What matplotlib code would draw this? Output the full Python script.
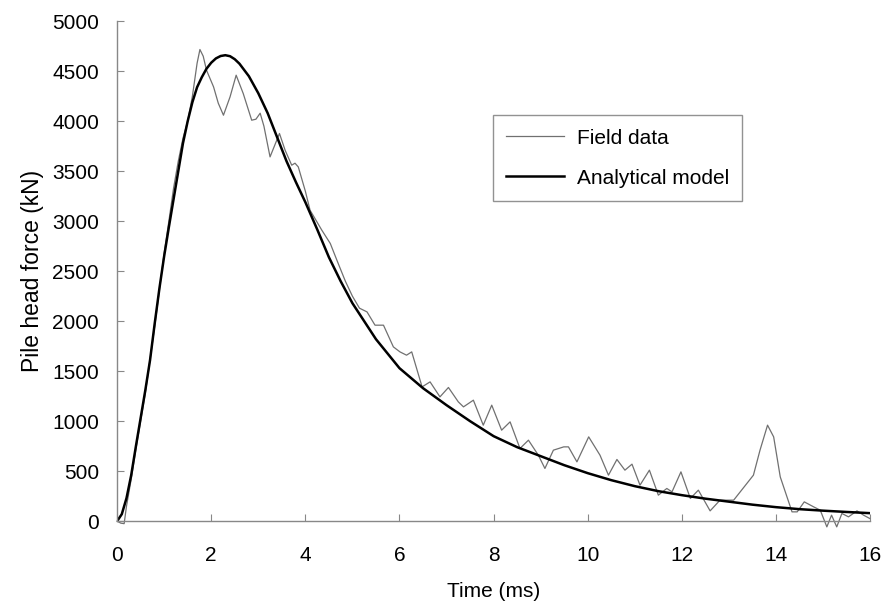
import matplotlib
matplotlib.use("Agg")
from matplotlib import pyplot as plt

plt.rcParams['font.family'] = ['Liberation Sans', 'DejaVu Sans']

# analytical model
model_t = [0, 0.1, 0.2, 0.3, 0.4, 0.5, 0.6, 0.7, 0.8, 0.9, 1.0, 1.1, 1.2, 1.3,
           1.4, 1.5, 1.6, 1.7, 1.8, 1.9, 2.0, 2.1, 2.2, 2.3, 2.4, 2.5, 2.6,
           2.8, 3.0, 3.2, 3.4, 3.6, 3.8, 4.0, 4.25, 4.5, 4.75, 5.0, 5.5, 6.0,
           6.5, 7.0, 7.5, 8.0, 8.5, 9.0, 9.5, 10.0, 10.5, 11.0, 11.5, 12.0,
           12.5, 13.0, 13.5, 14.0, 14.5, 15.0, 15.5, 16.0]
model_f = [0, 70, 230, 460, 750, 1030, 1310, 1610, 1980, 2330, 2650, 2940,
           3220, 3500, 3780, 4000, 4190, 4340, 4440, 4525, 4585, 4628, 4652,
           4660, 4650, 4620, 4575, 4450, 4280, 4080, 3840, 3600, 3390, 3190,
           2920, 2640, 2400, 2180, 1820, 1530, 1330, 1160, 1000, 850, 740,
           650, 560, 480, 410, 350, 300, 260, 225, 195, 165, 140, 120, 105,
           92, 80]

# field data
field_t = [0, 0.08, 0.15, 0.2, 0.3, 0.4, 0.6, 0.8, 1.0, 1.1, 1.2, 1.3, 1.4,
           1.5, 1.6, 1.7, 1.76, 1.83, 1.9, 2.05, 2.15, 2.26, 2.4, 2.53, 2.68,
           2.86, 2.95, 3.04, 3.12, 3.25, 3.35, 3.45, 3.57, 3.71, 3.78, 3.85,
           4.0, 4.1, 4.35, 4.53, 4.67, 4.85, 5.0, 5.15, 5.31, 5.48, 5.66,
           5.87, 6.01, 6.15, 6.26, 6.48, 6.65, 6.86, 7.04, 7.25, 7.36, 7.57,
           7.78, 7.96, 8.17, 8.35, 8.56, 8.74, 8.95, 9.09, 9.27, 9.49, 9.59,
           9.77, 10.02, 10.26, 10.44, 10.62, 10.79, 10.94, 11.11, 11.31,
           11.5, 11.68, 11.79, 11.98, 12.18, 12.35, 12.6, 12.81, 13.1, 13.52,
           13.66, 13.82, 13.95, 14.09, 14.34, 14.45, 14.6, 14.8, 14.94,
           15.08, 15.18, 15.29, 15.4, 15.54, 15.72, 15.86, 15.99]
field_f = [0, -20, -25, 150, 420, 720, 1280, 1950, 2680, 3000, 3330, 3600,
           3830, 4000, 4250, 4580, 4717, 4650, 4510, 4343, 4180, 4060, 4243,
           4460, 4277, 4010, 4020, 4080, 3950, 3643, 3760, 3877, 3710, 3560,
           3580, 3543, 3300, 3110, 2910, 2777, 2610, 2400, 2250, 2130, 2093,
           1960, 1960, 1743, 1693, 1660, 1693, 1343, 1393, 1243, 1337, 1193,
           1143, 1210, 960, 1160, 910, 993, 727, 810, 660, 527, 710, 743,
           743, 593, 843, 660, 460, 617, 510, 570, 360, 510, 260, 327, 293,
           493, 227, 310, 103, 210, 210, 460, 710, 960, 843, 443, 93, 93, 193,
           143, 110, -57, 60, -57, 77, 43, 103, 60, 27]

x_ticks = [0, 2, 4, 6, 8, 10, 12, 14, 16]
y_ticks = [0, 500, 1000, 1500, 2000, 2500, 3000, 3500, 4000, 4500, 5000]

fig = plt.figure(figsize=(8.87, 6.06), dpi=100)
ax = fig.add_axes([0.132, 0.140, 0.849, 0.825])

ax.plot(field_t, field_f, color='#707070', lw=0.9, label='Field data',
        clip_on=False)
ax.plot(model_t, model_f, color='black', lw=1.8, label='Analytical model')

ax.set_xlim(0, 16)
ax.set_ylim(0, 5000)
ax.set_xticks(x_ticks)
ax.set_yticks(y_ticks)

for side in ['top', 'right']:
    ax.spines[side].set_visible(False)
for side in ['left', 'bottom']:
    ax.spines[side].set_color('#888888')
    ax.spines[side].set_linewidth(1.0)

ax.tick_params(axis='both', direction='in', length=5, width=0.8,
               color='#888888', labelsize=15)
ax.tick_params(axis='x', pad=18)
ax.tick_params(axis='y', pad=13)

ax.set_xlabel('Time (ms)', fontsize=15, labelpad=12)
ax.set_ylabel('Pile head force (kN)', fontsize=16.5, labelpad=6)

leg = ax.legend(loc='upper left', bbox_to_anchor=(0.499, 0.812),
                borderaxespad=0, fancybox=False, frameon=True, fontsize=15,
                handlelength=2.75, handletextpad=0.62, labelspacing=1.0,
                borderpad=0.65)
leg.get_frame().set_edgecolor('#777777')
leg.get_frame().set_linewidth(1.0)

fig.savefig('out.png', dpi=100)
